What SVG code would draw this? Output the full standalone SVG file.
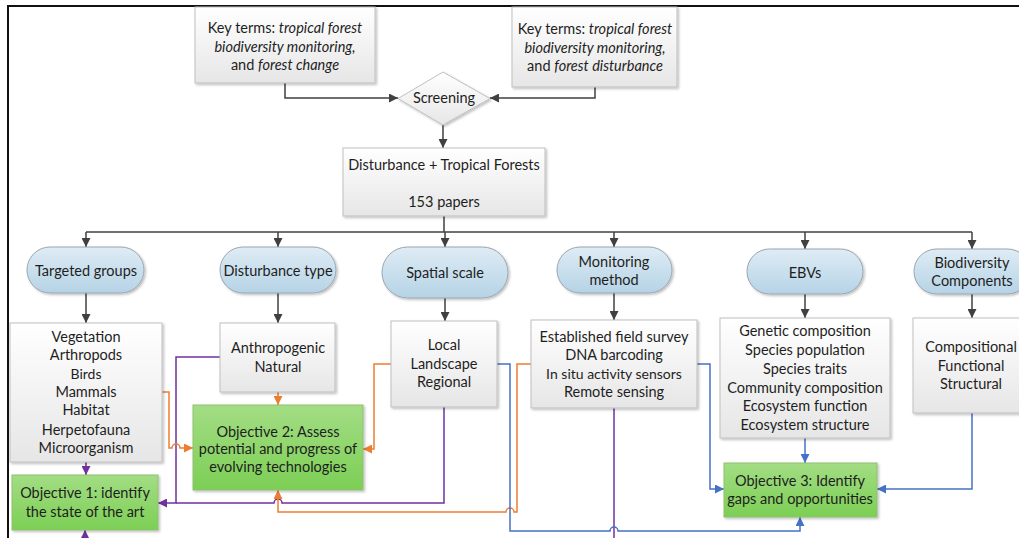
<svg xmlns="http://www.w3.org/2000/svg" width="1019" height="538" viewBox="0 0 1019 538">
<defs>
<linearGradient id="gGray" x1="0" y1="0" x2="0" y2="1"><stop offset="0" stop-color="#ffffff"/><stop offset="1" stop-color="#e6e6e6"/></linearGradient>
<linearGradient id="gBlue" x1="0" y1="0" x2="0" y2="1"><stop offset="0" stop-color="#dfecf5"/><stop offset="1" stop-color="#b5d3e6"/></linearGradient>
<linearGradient id="gGreen" x1="0" y1="0" x2="0" y2="1"><stop offset="0" stop-color="#a3dd84"/><stop offset="1" stop-color="#7ccf55"/></linearGradient>
<filter id="sh" x="-10%" y="-10%" width="125%" height="130%"><feDropShadow dx="1.5" dy="1.5" stdDeviation="1" flood-color="#000" flood-opacity="0.25"/></filter>
<marker id="aK" viewBox="0 0 10 10" refX="10" refY="5" markerWidth="9" markerHeight="9" markerUnits="userSpaceOnUse" orient="auto"><path d="M0,0 L10,5 L0,10 z" fill="#404040"/></marker>
<marker id="aP" viewBox="0 0 10 10" refX="10" refY="5" markerWidth="9" markerHeight="9" markerUnits="userSpaceOnUse" orient="auto"><path d="M0,0 L10,5 L0,10 z" fill="#7030a0"/></marker>
<marker id="aO" viewBox="0 0 10 10" refX="10" refY="5" markerWidth="9" markerHeight="9" markerUnits="userSpaceOnUse" orient="auto"><path d="M0,0 L10,5 L0,10 z" fill="#ed7d31"/></marker>
<marker id="aB" viewBox="0 0 10 10" refX="10" refY="5" markerWidth="9" markerHeight="9" markerUnits="userSpaceOnUse" orient="auto"><path d="M0,0 L10,5 L0,10 z" fill="#4472c4"/></marker>
</defs>
<style>
text{font-family:Lato,"Liberation Sans",sans-serif;font-size:14.5px;fill:#1e1e1e;text-anchor:middle}
.it{font-style:italic}
.sm{font-size:14px}
.box{fill:url(#gGray);stroke:#bfbfbf;stroke-width:1;filter:url(#sh)}
.pill{fill:url(#gBlue);stroke:#9aa6ae;stroke-width:1;filter:url(#sh)}
.obj{fill:url(#gGreen);stroke:#8fbf73;stroke-width:1;filter:url(#sh)}
.k{fill:none;stroke:#404040;stroke-width:1.5}
.p{fill:none;stroke:#7030a0;stroke-width:1.5}
.o{fill:none;stroke:#ed7d31;stroke-width:1.5}
.b{fill:none;stroke:#4472c4;stroke-width:1.5}
.frame{fill:none;stroke:#111;stroke-width:2}
</style>
<path class="frame" d="M8,538 L8,6 L1019,6"/>

<g id="connectors">
<path class="k" d="M285,83 L285,98 L398,98" marker-end="url(#aK)"/>
<path class="k" d="M595,87 L595,98 L490,98" marker-end="url(#aK)"/>
<path class="k" d="M443,125 L443,148" marker-end="url(#aK)"/>
<path class="k" d="M444,216 L444,232"/>
<path class="k" d="M86,232 L972,232"/>
<path class="k" d="M86,232 L86,247" marker-end="url(#aK)"/>
<path class="k" d="M278,232 L278,247" marker-end="url(#aK)"/>
<path class="k" d="M445,232 L445,247" marker-end="url(#aK)"/>
<path class="k" d="M614,232 L614,247" marker-end="url(#aK)"/>
<path class="k" d="M805,232 L805,249" marker-end="url(#aK)"/>
<path class="k" d="M972,232 L972,249" marker-end="url(#aK)"/>
<path class="k" d="M86,293 L86,323" marker-end="url(#aK)"/>
<path class="k" d="M278,293 L278,323" marker-end="url(#aK)"/>
<path class="k" d="M445,298 L445,321" marker-end="url(#aK)"/>
<path class="k" d="M614,293 L614,320" marker-end="url(#aK)"/>
<path class="k" d="M805,294 L805,318" marker-end="url(#aK)"/>
<path class="k" d="M972,294 L972,318" marker-end="url(#aK)"/>

<path class="p" d="M86,462 L86,475" marker-end="url(#aP)"/>
<path class="p" d="M220,357 L176,357 L176,503 L158,503" marker-end="url(#aP)"/>
<path class="p" d="M444,407 L444,503 L282,503 A4,4 0 0 0 274,503 L176,503"/>
<path class="p" d="M614,408 L614,538"/>
<path class="p" d="M85,538 L85,530" marker-end="url(#aP)"/>

<path class="o" d="M162,392 L169,392 L169,448 L172,448 A4,4 0 0 1 180,448 L193,448" marker-end="url(#aO)"/>
<path class="o" d="M278,392 L278,405" marker-end="url(#aO)"/>
<path class="o" d="M391,364 L374,364 L374,449 L363,449" marker-end="url(#aO)"/>
<path class="o" d="M531,364 L517,364 L517,512 L514,512 A4,4 0 0 0 506,512 L278,512 L278,490" marker-end="url(#aO)"/>

<path class="b" d="M497,364 L510,364 L510,531 L610,531 A4,4 0 0 1 618,531 L800,531 L800,517" marker-end="url(#aB)"/>
<path class="b" d="M697,364 L710,364 L710,489 L724,489" marker-end="url(#aB)"/>
<path class="b" d="M805,438 L805,463" marker-end="url(#aB)"/>
<path class="b" d="M972,413 L972,489 L877,489" marker-end="url(#aB)"/>
</g>

<g id="key1">
<rect class="box" x="195" y="7" width="180" height="76"/>
<text x="285" y="33">Key terms: <tspan class="it">tropical forest</tspan></text>
<text x="285" y="52" class="it">biodiversity monitoring,</text>
<text x="285" y="70">and <tspan class="it">forest change</tspan></text>
</g>
<g id="key2">
<rect class="box" x="512" y="7" width="165" height="80"/>
<text x="595" y="34">Key terms: <tspan class="it">tropical forest</tspan></text>
<text x="595" y="53" class="it">biodiversity monitoring,</text>
<text x="595" y="71">and <tspan class="it">forest disturbance</tspan></text>
</g>
<g id="screening">
<polygon class="box" points="443,72 490,98.5 443,125 398,98.5"/>
<text x="444" y="103">Screening</text>
</g>
<g id="disturbance-tropical">
<rect class="box" x="343" y="148" width="202" height="68"/>
<text x="444" y="170">Disturbance + Tropical Forests</text>
<text x="444" y="207">153 papers</text>
</g>

<g id="targeted-groups">
<rect class="pill" x="27" y="247" width="117" height="46" rx="23"/>
<text x="86" y="276">Targeted groups</text>
</g>
<g id="disturbance-type">
<rect class="pill" x="220" y="247" width="116" height="46" rx="23"/>
<text x="278" y="276">Disturbance type</text>
</g>
<g id="spatial-scale">
<rect class="pill" x="382" y="247" width="126" height="51" rx="25.5"/>
<text x="445" y="278">Spatial scale</text>
</g>
<g id="monitoring-method">
<rect class="pill" x="557" y="247" width="115" height="46" rx="23"/>
<text x="614" y="267">Monitoring</text>
<text x="614" y="285">method</text>
</g>
<g id="ebvs">
<rect class="pill" x="747" y="249" width="116" height="45" rx="22.5"/>
<text x="805" y="278">EBVs</text>
</g>
<g id="biodiversity-components">
<rect class="pill" x="914" y="249" width="116" height="45" rx="22.5"/>
<text x="972" y="268">Biodiversity</text>
<text x="972" y="286">Components</text>
</g>

<g id="targeted-list">
<rect class="box" x="10" y="323" width="152" height="139"/>
<text x="86" y="342">Vegetation</text>
<text x="86" y="360">Arthropods</text>
<text x="86" y="379" class="sm">Birds</text>
<text x="86" y="397">Mammals</text>
<text x="86" y="415">Habitat</text>
<text x="86" y="435">Herpetofauna</text>
<text x="86" y="453">Microorganism</text>
</g>
<g id="disturbance-list">
<rect class="box" x="220" y="323" width="115" height="69"/>
<text x="278" y="353">Anthropogenic</text>
<text x="278" y="372">Natural</text>
</g>
<g id="spatial-list">
<rect class="box" x="391" y="321" width="106" height="86"/>
<text x="444" y="350">Local</text>
<text x="444" y="369">Landscape</text>
<text x="444" y="387">Regional</text>
</g>
<g id="monitoring-list">
<rect class="box" x="531" y="320" width="166" height="88"/>
<text x="614" y="342">Established field survey</text>
<text x="614" y="360">DNA barcoding</text>
<text x="614" y="379" class="sm">In situ activity sensors</text>
<text x="614" y="397">Remote sensing</text>
</g>
<g id="ebv-list">
<rect class="box" x="720" y="318" width="170" height="120"/>
<text x="805" y="336">Genetic composition</text>
<text x="805" y="355">Species population</text>
<text x="805" y="374">Species traits</text>
<text x="805" y="393">Community composition</text>
<text x="805" y="411">Ecosystem function</text>
<text x="805" y="430">Ecosystem structure</text>
</g>
<g id="components-list">
<rect class="box" x="913" y="318" width="116" height="95"/>
<text x="971" y="352">Compositional</text>
<text x="971" y="371">Functional</text>
<text x="971" y="389">Structural</text>
</g>

<g id="objective1">
<rect class="obj" x="12" y="475" width="146" height="55"/>
<text x="85" y="498">Objective 1: identify</text>
<text x="85" y="517">the state of the art</text>
</g>
<g id="objective2">
<rect class="obj" x="193" y="405" width="170" height="85"/>
<text x="278" y="437">Objective 2: Assess</text>
<text x="278" y="454">potential and progress of</text>
<text x="278" y="472">evolving technologies</text>
</g>
<g id="objective3">
<rect class="obj" x="724" y="463" width="153" height="54"/>
<text x="800" y="486">Objective 3: Identify</text>
<text x="800" y="504">gaps and opportunities</text>
</g>
</svg>
